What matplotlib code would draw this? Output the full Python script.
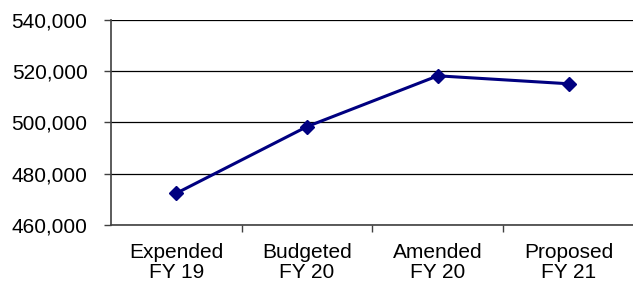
import matplotlib.pyplot as plt
from matplotlib.ticker import FuncFormatter, FixedLocator

plt.rcParams['font.family'] = ['Liberation Sans', 'DejaVu Sans']

# Data
categories = ['Expended\nFY 19', 'Budgeted\nFY 20', 'Amended\nFY 20', 'Proposed\nFY 21']
values = [472400, 498400, 518200, 515100]
y_ticks = [460000, 480000, 500000, 520000, 540000]

fig = plt.figure(figsize=(6.33, 2.86), dpi=100)
ax = fig.add_axes([0.1754, 0.2133, 0.826, 0.717])

x = list(range(len(categories)))
ax.plot(x, values, color='#000080', linewidth=2.2, marker='D', markersize=7,
        zorder=3)

ax.set_xlim(-0.5, len(categories) - 0.5)
ax.set_ylim(y_ticks[0], y_ticks[-1])
ax.set_yticks(y_ticks)
ax.yaxis.set_major_formatter(FuncFormatter(lambda v, p: f'{int(v):,}'))

ax.set_xticks(x)
ax.set_xticklabels(categories)
ax.xaxis.set_minor_locator(FixedLocator([0.5, 1.5, 2.5]))
ax.tick_params(axis='x', which='major', length=0, pad=13, labelsize=15)
ax.tick_params(axis='x', which='minor', length=5, width=1, color='#404040',
               direction='out')
ax.tick_params(axis='y', length=5, width=1, color='#404040', pad=12,
               labelsize=15)

for ln in ax.get_xticklabels():
    ln.set_linespacing(1.08)

ax.yaxis.grid(True, color='black', linewidth=0.9)
ax.set_axisbelow(True)
for s in ['top', 'right']:
    ax.spines[s].set_visible(False)
ax.spines['left'].set_color('#404040')
ax.spines['bottom'].set_color('#404040')
ax.spines['left'].set_linewidth(1.2)
ax.spines['bottom'].set_linewidth(1.2)

fig.savefig('out.png', dpi=100)
